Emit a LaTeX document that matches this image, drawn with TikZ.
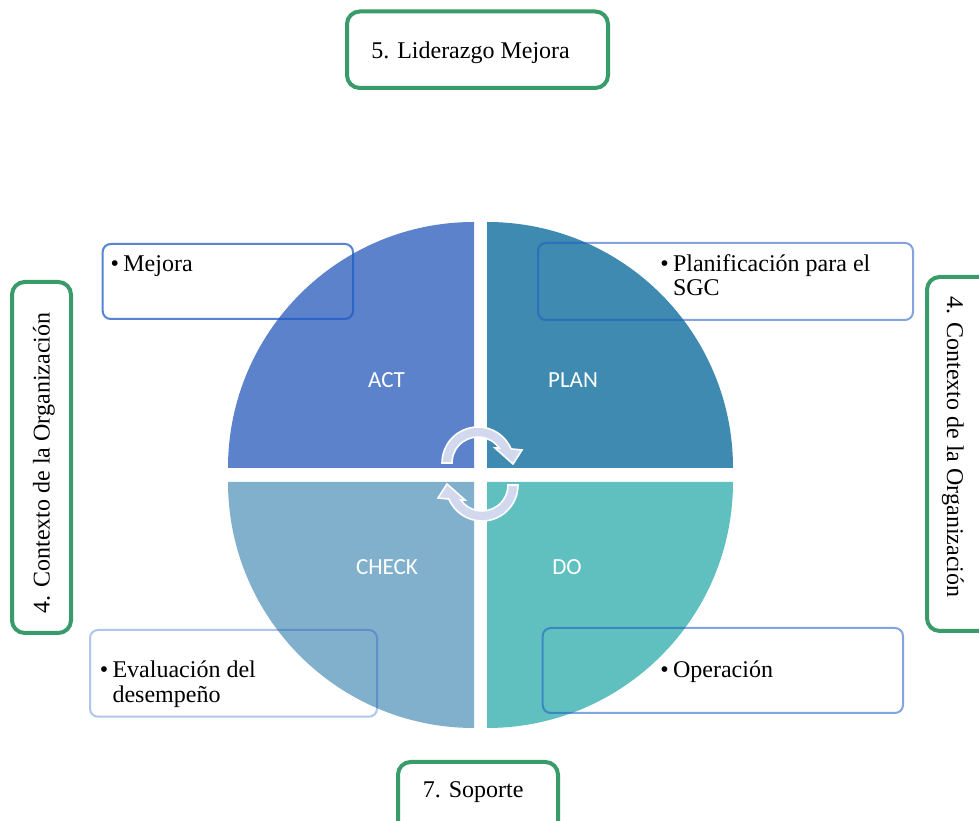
\documentclass[tikz,border=0pt]{standalone}
\usepackage{fontspec}
\setmainfont{Liberation Serif}
\newfontfamily\quadfont{Carlito}
\definecolor{actcol}{RGB}{91,130,203}
\definecolor{plancol}{RGB}{62,138,176}
\definecolor{docol}{RGB}{96,192,192}
\definecolor{checkcol}{RGB}{128,176,204}
\definecolor{framegreen}{RGB}{58,155,106}
\definecolor{noteblue}{RGB}{30,90,195}
\definecolor{arrowfill}{RGB}{210,216,238}
\begin{document}
\begin{tikzpicture}[x=0.75pt,y=0.75pt,
  greenframe/.style={draw=framegreen, line width=3pt, rounded corners=9.5pt},
  noteframe/.style={draw=noteblue, line width=1.5pt, rounded corners=6pt},
  serif/.style={inner sep=0pt, font=\fontsize{18}{18.2}\selectfont},
  quadlabel/.style={inner sep=0pt, text=white, anchor=base,
    font=\quadfont\fontsize{17.3}{18}\selectfont},
  cyclearrow/.style={fill=arrowfill, draw=white, line width=1.2pt, line join=miter}]
\useasboundingbox (0,0) rectangle (979,821);
\fill[white] (0,0) rectangle (979,821);

% PDCA quadrants
\fill[actcol] (474,353) -- (228,353) arc[start angle=180, end angle=90, radius=246] -- cycle;
\fill[plancol] (487,353) -- (487,599) arc[start angle=90, end angle=0, radius=246] -- cycle;
\fill[docol] (487,339) -- (733,339) arc[start angle=0, end angle=-90, radius=246] -- cycle;
\fill[checkcol] (474,339) -- (474,93) arc[start angle=270, end angle=180, radius=246] -- cycle;

% note frames
\draw[noteframe, draw opacity=0.75] (102.7,502) rectangle (353,577);
\draw[noteframe, draw opacity=0.55] (538,501) rectangle (913,578);
\draw[noteframe, draw opacity=0.35] (90,104.3) rectangle (377,191);
\draw[noteframe, draw opacity=0.55] (542.7,108) rectangle (903,193);

% cycle arrows in the middle
\filldraw[cyclearrow, shift={(478,358)}]
  (180:36) arc[start angle=180, end angle=23, radius=36] -- (44,13) -- (35,-1) -- (17,15)
  -- (35:26) arc[start angle=35, end angle=180, radius=26] -- cycle;
\filldraw[cyclearrow, shift={(482,336)}, rotate=180]
  (180:36) arc[start angle=180, end angle=23, radius=36] -- (44,13) -- (35,-1) -- (17,15)
  -- (35:26) arc[start angle=35, end angle=180, radius=26] -- cycle;

% quadrant labels
\node[quadlabel] (act) at (386.5,433) {ACT};
\node[quadlabel] (plan) at (573,433) {PLAN};
\node[quadlabel] (check) at (387,246.5) {CHECK};
\node[quadlabel] (do) at (567,246.5) {DO};

% notes
\node[serif, anchor=base west] (mejora) at (110.3,549.5)
  {\makebox[9.6pt][l]{\textbullet}Mejora};
\node[serif, anchor=base west] (planif) at (660,549.3)
  {\makebox[9.6pt][l]{\textbullet}\begin{tabular}[t]{@{}l@{}}Planificación para el\\SGC\end{tabular}};
\node[serif, anchor=base west] (evalua) at (99.5,143)
  {\makebox[9.6pt][l]{\textbullet}\begin{tabular}[t]{@{}l@{}}Evaluación del\\desempeño\end{tabular}};
\node[serif, anchor=base west] (operac) at (660,143)
  {\makebox[9.6pt][l]{\textbullet}Operación};

% clause frames
\draw[greenframe] (347,733) rectangle (608,809.5);
\node[serif, anchor=base west] (leadership) at (371,762) {5. Liderazgo Mejora};
\draw[greenframe] (398,-30) rectangle (558,59);
\node[serif, anchor=base west] (support) at (422.5,23) {7. Soporte};
\draw[greenframe] (12,188) rectangle (71,539);
\node[serif, anchor=base, rotate=90] (contextL) at (49.5,358) {4. Contexto de la Organización};
\draw[greenframe] (927,190) rectangle (1000,544);
\node[serif, anchor=base, rotate=-90] (contextR) at (947,374) {4. Contexto de la Organización};
\end{tikzpicture}
\end{document}
